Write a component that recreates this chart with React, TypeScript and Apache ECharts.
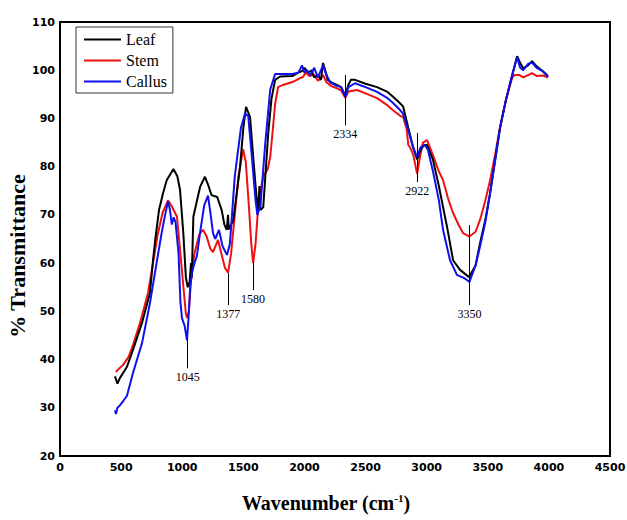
import React, { useEffect, useRef } from "react";
import * as echarts from "echarts";

// Leaf (black)
const leafWn = [450, 470, 491, 548, 597, 671, 736, 761, 780, 810, 843, 873, 928, 960, 982, 1009, 1030, 1045, 1060, 1072, 1078, 1091, 1146, 1186, 1215, 1240, 1286, 1323, 1345, 1364, 1375, 1380, 1418, 1473, 1500, 1522, 1555, 1596, 1620, 1632, 1640, 1663, 1704, 1730, 1760, 1800, 1900, 1950, 1980, 2000, 2030, 2060, 2080, 2110, 2135, 2152, 2170, 2190, 2220, 2260, 2300, 2334, 2360, 2380, 2414, 2500, 2594, 2680, 2725, 2780, 2807, 2850, 2889, 2922, 2950, 2980, 3003, 3052, 3100, 3134, 3167, 3216, 3273, 3347, 3400, 3437, 3480, 3519, 3555, 3600, 3650, 3700, 3740, 3765, 3790, 3830, 3862, 3900, 3950, 3993];
const leafT = [36.5, 35, 36.2, 38.5, 42, 47.6, 53.8, 60.6, 65, 71, 74.5, 77.2, 79.5, 78, 75.2, 66.2, 57, 55, 56, 60, 57, 69.6, 75.8, 77.9, 76, 74.1, 73.7, 71, 68, 66.9, 70, 67, 68.9, 79.9, 88, 92.4, 90.3, 77.2, 70.4, 76, 71, 71.6, 87, 94, 98, 98.7, 98.8, 99.5, 99.8, 100.5, 99.5, 100, 98.5, 99, 98, 101.5, 100, 98, 97.5, 97, 96.5, 94.8, 97, 98, 98, 97.2, 96.5, 95.5, 94.5, 93.2, 92.5, 88, 84, 81.5, 83.5, 84.5, 84.5, 81.4, 76, 71.6, 67.5, 60.6, 58.6, 57.1, 59.5, 64.2, 69, 74.5, 80.5, 88, 94, 99, 102.9, 101.5, 100.4, 101, 101.9, 100.8, 99.8, 98.8];

// Stem (red)
const stemWn = [458, 470, 516, 560, 589, 655, 720, 761, 800, 840, 884, 910, 957, 985, 1010, 1030, 1040, 1055, 1070, 1100, 1140, 1170, 1200, 1230, 1252, 1293, 1320, 1350, 1375, 1400, 1430, 1460, 1498, 1520, 1545, 1565, 1580, 1600, 1625, 1663, 1700, 1720, 1735, 1760, 1784, 1830, 1907, 1960, 1988, 2010, 2040, 2080, 2110, 2140, 2152, 2180, 2220, 2270, 2300, 2334, 2360, 2430, 2500, 2594, 2680, 2725, 2780, 2807, 2835, 2850, 2864, 2890, 2922, 2945, 2970, 3003, 3050, 3100, 3134, 3180, 3216, 3260, 3298, 3350, 3400, 3437, 3480, 3519, 3560, 3600, 3650, 3700, 3720, 3760, 3790, 3830, 3862, 3900, 3950, 3993];
const stemT = [37.4, 37.8, 38.9, 40.5, 42.4, 47.6, 53.8, 60, 66, 70.5, 73, 72, 69.6, 62, 55, 49.5, 48.6, 50, 56, 62, 66, 66.9, 65.5, 63, 62.3, 64.8, 62, 59, 58, 62, 70, 78, 83.6, 81, 72, 64, 60, 64, 73, 77.9, 79.5, 82, 86, 93, 96.5, 97, 97.6, 98.3, 98.6, 99.5, 98.8, 99, 97.8, 98.5, 99, 97.5, 96.7, 96.2, 95.8, 94.3, 95.6, 95.9, 95.2, 94.2, 92.7, 91.7, 90.6, 90.3, 88, 84.5, 84, 82.5, 78.5, 82, 85, 85.5, 82.5, 79, 77.2, 73, 70.4, 68, 66.2, 65.5, 66.5, 69, 73, 77.2, 82.5, 88.2, 94, 98.5, 99, 99, 98.5, 99, 99.4, 98.8, 98.9, 98.5];

// Callus (blue)
const callusWn = [450, 458, 470, 490, 520, 548, 597, 671, 736, 794, 830, 860, 884, 900, 915, 930, 945, 970, 985, 998, 1020, 1039, 1050, 1065, 1080, 1100, 1120, 1150, 1180, 1211, 1230, 1252, 1270, 1301, 1330, 1366, 1390, 1430, 1480, 1514, 1540, 1570, 1600, 1615, 1640, 1680, 1720, 1760, 1800, 1900, 1950, 1980, 2000, 2020, 2050, 2080, 2110, 2152, 2180, 2210, 2260, 2300, 2334, 2360, 2414, 2500, 2594, 2680, 2725, 2780, 2807, 2850, 2889, 2922, 2950, 2985, 3010, 3052, 3100, 3134, 3191, 3249, 3300, 3330, 3350, 3400, 3437, 3480, 3519, 3555, 3600, 3650, 3700, 3740, 3765, 3790, 3830, 3862, 3900, 3950, 3993];
const callusT = [29.5, 28.7, 30, 30.5, 31.5, 32.5, 37.2, 43.4, 51.7, 60.6, 66, 70, 72.8, 71, 68, 69.5, 68.5, 62, 52, 48.6, 47, 44, 48, 55, 58, 60, 61.5, 67, 72, 74, 70.5, 66.2, 65, 66.9, 63.5, 61.7, 64, 78, 88, 91, 90.5, 82, 73, 70, 72, 85, 96, 99.2, 99.2, 99.2, 99.5, 101, 99.5, 100, 99, 100.5, 98.5, 101, 99, 97.5, 96.8, 96.5, 94.5, 96.5, 97.3, 96.5, 95.5, 94.2, 93.2, 91.8, 91, 87.5, 84, 82, 84, 84.5, 83.5, 79, 73, 66.9, 60.6, 57.5, 57, 56.5, 56.1, 59.5, 63.5, 68.5, 74.5, 80.5, 88, 94, 99, 102.7, 100.5, 100, 101.3, 101.6, 100.5, 99.8, 98.6];

// Peak annotations
const peakWn = [1045, 1377, 1580, 2334, 2922, 3350];
const peakTop = [44.5, 57.9, 60.2, 99, 87, 67.9];
const peakBottom = [38.2, 51.3, 54.4, 88.6, 76.8, 51.3];

const xTicks = { min: 0, max: 4500, interval: 500 };
const yTicks = { min: 20, max: 110, interval: 10 };

const zip = (xs: number[], ys: number[]) => xs.map((x, i) => [x, ys[i]]);

export default function App() {
  const ref = useRef<HTMLDivElement>(null);
  useEffect(() => {
    if (!ref.current) return;
    const chart = echarts.init(ref.current, null, { renderer: "svg" });
    const serif = "'Liberation Serif', 'Times New Roman', serif";
    const tickFont = { fontFamily: "'DejaVu Sans', sans-serif", fontWeight: "bold" as const, fontSize: 11, color: "#000" };
    const lineSeries = (name: string, data: number[][], color: string, extra: any = {}) => ({
      name,
      type: "line",
      data,
      showSymbol: false,
      symbol: "none",
      lineStyle: { color, width: 2 },
      itemStyle: { color },
      smooth: false,
      z: 3,
      ...extra,
    });
    chart.setOption({
      animation: false,
      grid: {
        left: 60, right: 17, top: 22, bottom: 64,
        outerBoundsMode: "none",
        containLabel: false,
        show: true, borderColor: "#000", borderWidth: 2, backgroundColor: "transparent",
      },
      graphic: [
        {
          type: "text",
          x: 17,
          y: 256,
          rotation: Math.PI / 2,
          style: {
            text: "% Transmittance",
            fontFamily: serif,
            fontWeight: "bold",
            fontSize: 22,
            fill: "#000",
            align: "center",
            verticalAlign: "middle",
          },
        },
      ],
      legend: {
        orient: "vertical",
        left: 76,
        top: 27,
        icon: "rect",
        itemWidth: 37,
        itemHeight: 2,
        itemGap: 4,
        padding: [4, 6, 3, 8],
        borderColor: "#333",
        borderWidth: 1,
        textStyle: { fontFamily: serif, fontSize: 16, color: "#000", lineHeight: 17 },
        data: ["Leaf", "Stem", "Callus"],
      },
      xAxis: {
        type: "value",
        ...xTicks,
        axisLine: { show: true, lineStyle: { color: "#000", width: 2 } },
        axisTick: { show: false },
        splitLine: { show: false },
        axisLabel: { ...tickFont, margin: 6, formatter: (v: number) => String(v) },
        name: "Wavenumber (cm{sup|-1})",
        nameLocation: "middle",
        nameGap: 36,
        nameTextStyle: {
          fontFamily: serif,
          fontWeight: "bold",
          fontSize: 20,
          color: "#000",
          lineHeight: 22,
          padding: [0, 18, 0, 0],
          rich: { sup: { fontFamily: serif, fontWeight: "bold", fontSize: 11, color: "#000", lineHeight: 22, verticalAlign: "top" } },
        },
      },
      yAxis: {
        type: "value",
        ...yTicks,
        axisLine: { show: true, lineStyle: { color: "#000", width: 2 } },
        axisTick: { show: false },
        splitLine: { show: false },
        axisLabel: { ...tickFont, margin: 5, formatter: (v: number) => String(v) },
      },
      series: [
        lineSeries("Stem", zip(stemWn, stemT), "#ee1111"),
        lineSeries("Leaf", zip(leafWn, leafT), "#000000"),
        lineSeries("Callus", zip(callusWn, callusT), "#1010ee", {
          markLine: {
            silent: true,
            symbol: ["none", "none"],
            lineStyle: { color: "#000", width: 1, type: "solid" },
            label: {
              show: true,
              position: "end",
              distance: 3,
              fontFamily: serif,
              fontSize: 12,
              color: "#000",
              textBorderWidth: 0,
            },
            data: peakWn.map((w, i) => [
              { coord: [w, peakTop[i]] },
              { coord: [w, peakBottom[i]], label: { formatter: String(w), color: "#000" } },
            ]),
          },
        }),
      ],
    });
    return () => chart.dispose();
  }, []);
  return <div ref={ref} style={{ position: "absolute", left: 0, top: 0, width: 627, height: 520 }} />;
}
